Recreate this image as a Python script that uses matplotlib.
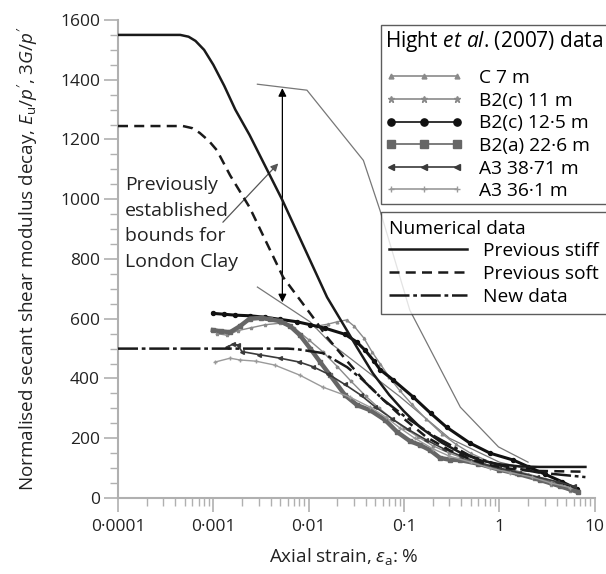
import numpy as np
import matplotlib
matplotlib.use("Agg")
import matplotlib.pyplot as plt
from matplotlib.ticker import MultipleLocator, LogLocator, FixedLocator, FixedFormatter, NullFormatter
from matplotlib.lines import Line2D

plt.rcParams['font.family'] = ['Open Sans', 'DejaVu Sans']
plt.rcParams['mathtext.fontset'] = 'custom'
plt.rcParams['mathtext.rm'] = 'Open Sans'
plt.rcParams['mathtext.it'] = 'Open Sans:italic'
plt.rcParams['font.size'] = 12

# Numerical data
stiff_x = [0.0001, 0.00045, 0.00055, 0.00065, 0.0008, 0.001, 0.0013, 0.0017, 0.0024, 0.0053,
           0.0156, 0.0253, 0.032, 0.047, 0.07, 0.1, 0.15, 0.25, 0.4, 0.65, 1.0, 1.6, 2.6, 8.0]
stiff_y = [1550, 1550, 1544, 1530, 1500, 1450, 1380, 1300, 1215, 997,
           672, 560, 505, 418, 345, 290, 235, 185, 150, 125, 113, 106, 104, 104]

soft_x = [0.0001, 0.00048, 0.0006, 0.00072, 0.0009, 0.00109, 0.0015, 0.0024, 0.0054, 0.0111,
          0.0156, 0.025, 0.04, 0.06, 0.1, 0.17, 0.3, 0.5, 0.8, 1.3, 2.1, 8.0]
soft_y = [1245, 1245, 1238, 1222, 1195, 1164, 1080, 973, 739, 605,
          538, 460, 385, 330, 265, 205, 160, 130, 110, 98, 91, 88]

new_x = [0.0001, 0.006, 0.0076, 0.0141, 0.0253, 0.037, 0.06, 0.1, 0.2, 0.5, 1.0, 2.6, 8.0]
new_y = [500, 500, 498, 485, 438, 395, 330, 275, 210, 140, 110, 85, 70]

# Previously established bounds for London Clay
upper_x = [0.0029, 0.0096, 0.0375, 0.056, 0.115, 0.39, 0.98, 2.0]
upper_y = [1385, 1365, 1130, 963, 629, 304, 171, 120]
lower_x = [0.0029, 0.0103, 0.017, 0.037, 0.09, 0.3, 1.0, 2.5]
lower_y = [706, 590, 518, 435, 340, 200, 120, 90]

# Hight et al. (2007) data
c7_x = [0.012, 0.016, 0.02, 0.025, 0.03, 0.038, 0.046, 0.056, 0.07, 0.09, 0.12, 0.17,
        0.25, 0.35, 0.5, 0.8, 1.2, 2.0, 3.0, 5.0]
c7_y = [575, 582, 590, 596, 575, 535, 490, 450, 405, 360, 315, 265, 215, 180, 150, 120,
        100, 80, 65, 45]

b2c11_x = [0.0011, 0.0014, 0.0018, 0.0025, 0.0035, 0.005, 0.007, 0.01, 0.014, 0.02, 0.028,
           0.04, 0.055, 0.075, 0.1, 0.14, 0.2, 0.3, 0.45, 0.7, 1.0, 1.5, 2.3, 3.5, 5.5]
b2c11_y = [550, 545, 560, 570, 580, 585, 570, 530, 490, 440, 390, 340, 300, 265, 235, 205,
           175, 150, 130, 110, 95, 80, 65, 45, 25]

b2c125_x = [0.00099, 0.0013, 0.0017, 0.0024, 0.0035, 0.005, 0.0075, 0.0104, 0.015, 0.024,
            0.032, 0.039, 0.048, 0.056, 0.077, 0.125, 0.19, 0.28, 0.49, 0.8, 1.4, 2.0, 3.0,
            4.5, 6.5]
b2c125_y = [618, 615, 612, 610, 605, 598, 590, 580, 568, 548, 522, 495, 460, 430, 395, 338,
            284, 237, 184, 150, 127, 105, 80, 55, 30]

b2a_x = [0.00099, 0.0012, 0.0015, 0.0019, 0.0024, 0.0032, 0.0039, 0.005, 0.0064, 0.0081,
         0.0104, 0.0132, 0.0168, 0.0241, 0.0322, 0.0441, 0.0634, 0.0847, 0.116, 0.148,
         0.188, 0.239, 0.305, 0.388, 0.6, 1.0, 1.6, 2.7, 4.3, 6.7]
b2a_y = [562, 558, 555, 575, 600, 603, 598, 592, 575, 545, 500, 455, 411, 344, 311, 294,
         261, 221, 190, 177, 160, 134, 128, 127, 115, 95, 80, 60, 40, 20]

a3871_x = [0.0014, 0.0016, 0.0018, 0.002, 0.003, 0.005, 0.008, 0.011, 0.016, 0.024, 0.035,
           0.05, 0.075, 0.11, 0.17, 0.26, 0.4, 0.65, 1.0, 1.6, 2.5, 4.0, 6.0]
a3871_y = [505, 515, 512, 490, 480, 468, 455, 440, 415, 380, 345, 305, 265, 230, 195, 165,
           140, 115, 100, 85, 70, 55, 40]

a361_x = [0.00104, 0.0015, 0.0019, 0.0028, 0.0044, 0.0081, 0.0141, 0.027, 0.0441, 0.065,
          0.09, 0.13, 0.2, 0.3, 0.5, 0.8, 1.3, 2.2, 3.5, 5.5]
a361_y = [455, 468, 462, 458, 445, 411, 371, 338, 304, 270, 235, 200, 165, 140, 120, 100,
          85, 70, 50, 35]

xticks = [0.0001, 0.001, 0.01, 0.1, 1, 10]
xtick_labels = ['0·0001', '0·001', '0·01', '0·1', '1', '10']

fig = plt.figure(figsize=(6.06, 5.74), dpi=100)
ax = fig.add_axes([0.1947, 0.1324, 0.7866, 0.8328])

hight = [
    (c7_x, c7_y, 'C 7 m', '#8a8a8a', '^', 3.5, 1.0),
    (b2c11_x, b2c11_y, 'B2(c) 11 m', '#8a8a8a', '*', 4.5, 1.0),
    (b2c125_x, b2c125_y, 'B2(c) 12·5 m', '#111111', 'o', 5.2, 2.2),
    (b2a_x, b2a_y, 'B2(a) 22·6 m', '#666666', 's', 5.2, 3.2),
    (a3871_x, a3871_y, 'A3 38·71 m', '#3a3a3a', '<', 5, 1.2),
    (a361_x, a361_y, 'A3 36·1 m', '#9a9a9a', '+', 5, 1.0),
]
hight_handles = []
for xs, ys, lab, col, mk, ms, lw in hight:
    ax.plot(xs, ys, color=col, lw=lw, marker=mk, ms=ms * 0.55, zorder=3)
    hight_handles.append(Line2D([], [], color=col, lw=1.2, marker=mk, ms=ms, label=lab))

ax.plot(upper_x, upper_y, color='#777777', lw=0.9, zorder=2)
ax.plot(lower_x, lower_y, color='#777777', lw=0.9, zorder=2)

l1, = ax.plot(stiff_x, stiff_y, color='#1a1a1a', lw=1.8, ls='-', zorder=4, label='Previous stiff')
l2, = ax.plot(soft_x, soft_y, color='#1a1a1a', lw=1.8, ls=(0, (4, 2.5)), zorder=4, label='Previous soft')
l3, = ax.plot(new_x, new_y, color='#1a1a1a', lw=1.8, ls=(0, (8, 1.5, 1.5, 1.5)), zorder=4, label='New data')

# annotations
ax.annotate('', xy=(0.0053, 1372), xytext=(0.0053, 655),
            arrowprops=dict(arrowstyle='<|-|>', color='black', lw=0.9,
                            mutation_scale=12, shrinkA=0, shrinkB=0))
ax.annotate('', xy=(0.0048, 1120), xytext=(0.00126, 923),
            arrowprops=dict(arrowstyle='-|>', color='#555555', lw=0.9,
                            mutation_scale=11, shrinkA=0, shrinkB=0))
ax.text(0.000118, 1078, 'Previously\nestablished\nbounds for\nLondon Clay',
        ha='left', va='top', fontsize=14, color='#222222', linespacing=1.55)

ax.set_xscale('log')
ax.set_xlim(1e-4, 10)
ax.set_ylim(0, 1600)
ax.xaxis.set_major_locator(FixedLocator(xticks))
ax.xaxis.set_major_formatter(FixedFormatter(xtick_labels))
ax.xaxis.set_minor_locator(LogLocator(base=10, subs=np.arange(2, 10)))
ax.xaxis.set_minor_formatter(NullFormatter())
ax.yaxis.set_major_locator(MultipleLocator(200))
ax.yaxis.set_minor_locator(MultipleLocator(50))

for side in ['top', 'right']:
    ax.spines[side].set_visible(False)
for side in ['left', 'bottom']:
    ax.spines[side].set_color('#b0b0b0')
    ax.spines[side].set_linewidth(1.5)
ax.tick_params(which='major', length=10, width=1.2, color='#b0b0b0', labelsize=12.5,
               labelcolor='#222222')
ax.tick_params(axis='y', which='major', pad=3)
ax.tick_params(axis='x', which='major', pad=5)
ax.tick_params(which='minor', length=6, width=1.0, color='#b0b0b0')

ax.set_xlabel('Axial strain, $\\varepsilon_\\mathrm{a}$: %', fontsize=13.6, color='#222222')
ax.xaxis.set_label_coords(0.474, -0.1)
ax.set_ylabel("Normalised secant shear modulus decay, $E_\\mathrm{u}/p'$, $3G/p'$",
              fontsize=13.6, color='#222222', labelpad=14)

leg1 = fig.legend(handles=hight_handles, title='Hight $\\it{et\\ al}$. (2007) data',
                  loc='upper left', bbox_to_anchor=(0.629, 0.9564), frameon=True,
                  fancybox=False, edgecolor='#333333', fontsize=13.8, title_fontsize=15,
                  numpoints=3, handlelength=4.05, handletextpad=0.85, labelspacing=0.24,
                  borderpad=0.2, alignment='left', borderaxespad=0)
leg1.get_frame().set_linewidth(1.0)
leg1._legend_box.sep = 11.0
leg2 = fig.legend(handles=[l1, l2, l3], title='Numerical data',
                  loc='upper left', bbox_to_anchor=(0.629, 0.6307), frameon=True,
                  fancybox=False, edgecolor='#333333', fontsize=13.8, title_fontsize=13.8,
                  handlelength=4.05, handletextpad=0.85, labelspacing=0.26,
                  borderpad=0.42, alignment='left', borderaxespad=0)
leg2.get_frame().set_linewidth(1.0)
leg2._legend_box.sep = 2.6

fig.savefig('out.png', dpi=100)
